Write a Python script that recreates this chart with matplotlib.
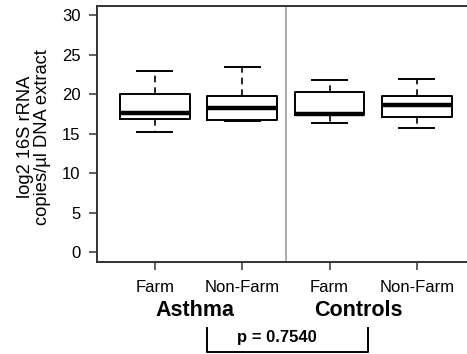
import matplotlib
matplotlib.use("Agg")
import matplotlib.pyplot as plt

plt.rcParams["font.family"] = ["Liberation Sans", "DejaVu Sans"]

# Box summaries per group (log2 16S rRNA copies/µl)
groups = ["Farm", "Non-Farm", "Farm", "Non-Farm"]
whisker_low = [15.3, 16.7, 16.4, 15.7]
q1 = [16.9, 16.8, 17.4, 17.1]
medians = [17.6, 18.3, 17.5, 18.65]
q3 = [20.1, 19.75, 20.3, 19.75]
whisker_high = [23.0, 23.5, 21.8, 22.0]
cohorts = ["Asthma", "Controls"]
p_label = "p = 0.7540"

stats = []
for i in range(len(groups)):
    stats.append({
        "whislo": whisker_low[i], "q1": q1[i], "med": medians[i],
        "q3": q3[i], "whishi": whisker_high[i], "fliers": [],
    })

fig = plt.figure(figsize=(4.67, 3.54), dpi=100)
ax = fig.add_axes([0.2077, 0.260, 0.809, 0.723])

pos = [1, 2, 3, 4]
ax.bxp(stats, positions=pos, widths=0.8, showfliers=False,
       boxprops=dict(color="black", linewidth=1.4),
       medianprops=dict(color="black", linewidth=3.2, solid_capstyle="butt"),
       whiskerprops=dict(color="black", linewidth=1.2, linestyle=(0, (4, 3))),
       capprops=dict(color="black", linewidth=1.4),
       capwidths=0.4)

# separator between the two cohorts
ax.axvline(2.5, color="#a0a0a0", linewidth=1.2)

ax.set_xlim(0.336, 4.664)
ax.set_ylim(-1.2, 31.2)
ax.set_yticks([0, 5, 10, 15, 20, 25, 30])
ax.set_xticks(pos)
ax.set_xticklabels(groups)
ax.tick_params(axis="both", length=6, width=1.1, color="#333333", labelsize=12)
ax.tick_params(axis="x", pad=7)
ax.tick_params(axis="y", pad=6)
for s in ax.spines.values():
    s.set_color("#333333")
    s.set_linewidth(1.4)

fig.text(0.072, 0.613, "log2 16S rRNA\ncopies/µl DNA extract", rotation=90,
         ha="center", va="center", fontsize=13.2, linespacing=1.0)

# cohort labels under the tick labels
ax.text(1.46, -7.3, cohorts[0], ha="center", va="center", fontsize=15.5,
        fontweight="bold", clip_on=False)
ax.text(3.33, -7.3, cohorts[1], ha="center", va="center", fontsize=15.5,
        fontweight="bold", clip_on=False)

# comparison bracket
bx = [1.6, 1.6, 3.44, 3.44]
by = [-9.5, -12.6, -12.6, -9.5]
ax.plot(bx, by, color="black", linewidth=1.4, clip_on=False)
ax.text(2.4, -10.8, p_label, ha="center", va="center", fontsize=12,
        fontweight="bold", clip_on=False)

fig.savefig("out.png", dpi=100)
